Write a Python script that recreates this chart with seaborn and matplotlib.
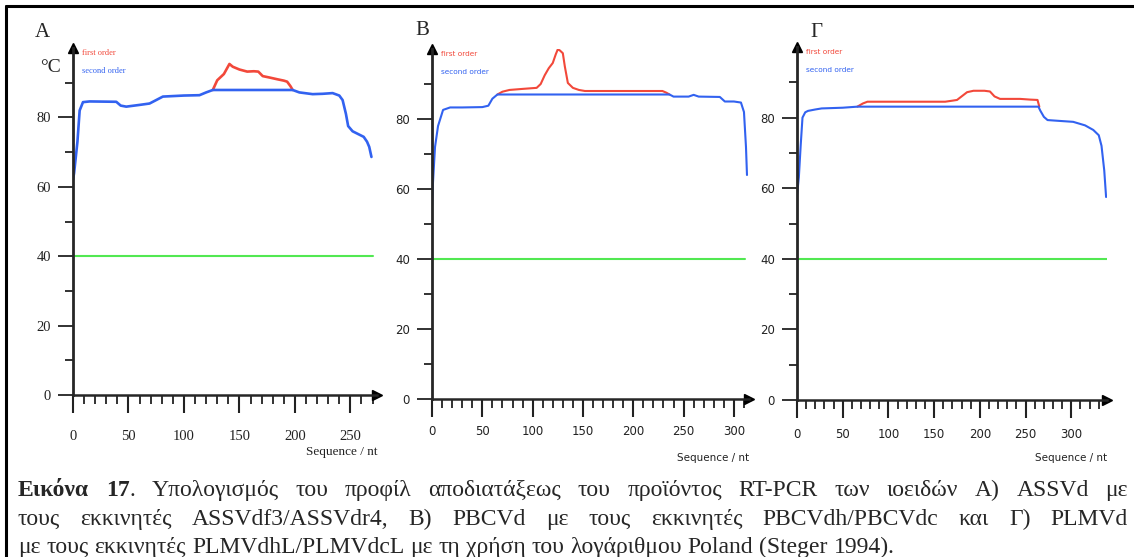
import matplotlib
matplotlib.use("Agg")
import matplotlib.pyplot as plt
import seaborn as sns
from matplotlib.lines import Line2D

# ---- data ----
blue_A_x = [0, 1, 4, 6, 9, 15, 39, 43, 48, 60, 69, 75, 81, 100, 114, 120, 126, 198, 204, 216, 225, 234, 240, 243, 246, 248, 252, 257, 262, 265, 267, 269]
blue_A_y = [62, 64, 73, 82, 84.4, 84.6, 84.5, 83.4, 83.1, 83.6, 84, 85, 86, 86.3, 86.4, 87.2, 87.9, 87.9, 87.2, 86.7, 86.8, 87, 86.3, 85, 81, 77.5, 76, 75.2, 74.4, 73, 71.5, 68.6]
red_A_x = [126, 130, 132, 136, 141, 144, 150, 157, 163, 167, 171, 177, 184, 190, 193, 196, 198]
red_A_y = [87.9, 90.7, 91.3, 92.5, 95.4, 94.6, 93.8, 93.2, 93.3, 93.2, 91.9, 91.5, 91.0, 90.6, 90.3, 89, 87.9]

blue_B_x = [0, 1, 3, 6, 11, 18, 30, 50, 56, 60, 65, 100, 150, 200, 236, 240, 255, 260, 265, 286, 291, 300, 307, 310, 312, 313]
blue_B_y = [55, 62, 72, 78, 82.6, 83.3, 83.3, 83.4, 83.8, 85.8, 87, 87, 87, 87, 87, 86.4, 86.4, 86.9, 86.4, 86.3, 85, 85, 84.7, 82, 72, 64]
red_B_x = [65, 70, 77, 90, 104, 108, 112, 116, 120, 123, 125, 127, 130, 132, 135, 140, 146, 152, 180, 229, 233, 236]
red_B_y = [87, 87.8, 88.3, 88.6, 88.9, 90, 92.5, 94.5, 96, 98.5, 99.9, 99.6, 98.8, 95, 90.3, 88.9, 88.3, 88, 88, 88, 87.5, 87]

blue_G_x = [0, 2, 4, 6, 9, 12, 20, 27, 50, 66, 150, 264, 266, 270, 274, 285, 302, 315, 324, 330, 333, 336, 338]
blue_G_y = [58, 63, 72, 80, 81.5, 81.9, 82.3, 82.6, 82.8, 83.1, 83.1, 83.1, 82, 80.2, 79.3, 79.1, 78.8, 77.8, 76.5, 75, 72, 65, 57.5]
red_G_x = [66, 72, 77, 120, 162, 170, 175, 180, 186, 193, 205, 211, 216, 222, 244, 255, 263, 265]
red_G_y = [83.1, 84, 84.5, 84.5, 84.5, 84.8, 85, 86, 87.2, 87.6, 87.6, 87.4, 86, 85.3, 85.3, 85.1, 85, 83.1]

green_y = 40
green_end = [270, 311, 339]

panel_letters = ["A", "B", "Γ"]
y_major = [0, 20, 40, 60, 80]
y_minor = [10, 30, 50, 70, 90]

caption = [
    "Εικόνα 17. Υπολογισμός του προφίλ αποδιατάξεως του προϊόντος RT-PCR των ιοειδών Α) ASSVd με",
    "τους εκκινητές ASSVdf3/ASSVdr4, Β) PBCVd με τους εκκινητές PBCVdh/PBCVdc και Γ) PLMVd",
    "με τους εκκινητές PLMVdhL/PLMVdcL με τη χρήση του λογάριθμου Poland (Steger 1994).",
]

RED = "#f2483a"
BLUE = "#3262f0"
GREEN = "#52e852"

sns.set_style("ticks")
plt.rcParams["font.family"] = ["DejaVu Sans"]

W, H = 1134, 557
fig = plt.figure(figsize=(W / 100, H / 100), dpi=100)


def fx(px):
    return px / W


def fy(py):
    return 1 - py / H


# outer frame (top + left)
fig.add_artist(Line2D([fx(5.5), 1.0], [fy(6), fy(6)], color="black", lw=2.2))
fig.add_artist(Line2D([fx(6), fx(6)], [fy(6), 0.0], color="black", lw=2.2))

# panel geometry in pixels: left, right(arrow tip), top(arrow tip), bottom(y=0)
panels = [
    dict(box=(73, 377, 48, 395), xmax=274, xmajor=250, xminor=270, serif=True,
         blue=(blue_A_x, blue_A_y), red=(red_A_x, red_A_y), xpad=12, lw=1.9),
    dict(box=(432, 749, 49, 399), xmax=315, xmajor=300, xminor=310, serif=False,
         blue=(blue_B_x, blue_B_y), red=(red_B_x, red_B_y), xpad=6, lw=1.5),
    dict(box=(797, 1107, 47, 400), xmax=339, xmajor=300, xminor=330, serif=False,
         blue=(blue_G_x, blue_G_y), red=(red_G_x, red_G_y), xpad=7, lw=1.5),
]

for i, p in enumerate(panels):
    l, r, t, b = p["box"]
    ax = fig.add_axes([fx(l), fy(b), (r - l) / W, (b - t) / H])
    ax.set_xlim(0, p["xmax"])
    ax.set_ylim(0, 100)
    fam = "Liberation Serif" if p["serif"] else "DejaVu Sans"
    lsize = 10.5 if p["serif"] else 8.5

    sns.lineplot(x=[0, green_end[i]], y=[green_y, green_y], ax=ax, color=GREEN, lw=1.5, estimator=None)
    sns.lineplot(x=p["red"][0], y=p["red"][1], ax=ax, color=RED, lw=p["lw"], estimator=None, sort=False)
    sns.lineplot(x=p["blue"][0], y=p["blue"][1], ax=ax, color=BLUE, lw=p["lw"], estimator=None, sort=False)

    for s in ["top", "right"]:
        ax.spines[s].set_visible(False)
    ax.spines["left"].set_linewidth(2)
    ax.spines["bottom"].set_linewidth(1.8)
    ax.plot(1, 0, ">k", ms=7, transform=ax.transAxes, clip_on=False)
    ax.plot(0, 1, "^k", ms=7, transform=ax.transAxes, clip_on=False)

    ax.set_yticks(y_major)
    ax.set_yticks(y_minor, minor=True)
    ax.set_xticks(list(range(0, p["xmajor"] + 1, 50)))
    ax.set_xticks(list(range(0, p["xminor"] + 1, 10)), minor=True)
    ax.tick_params(left=True, bottom=True, which="both", color="#222222")
    ax.tick_params(axis="y", which="major", direction="out", length=11, width=1.3,
                   pad=5, labelsize=lsize, labelcolor="#222222")
    ax.tick_params(axis="y", which="minor", direction="out", length=6, width=1.3)
    ax.tick_params(axis="x", which="major", direction="out", length=13, width=1.5,
                   pad=p["xpad"], labelsize=lsize, labelcolor="#222222")
    ax.tick_params(axis="x", which="minor", direction="out", length=6.5, width=1.3)
    for lab in ax.get_xticklabels() + ax.get_yticklabels():
        lab.set_family(fam)
    ax.set_xlabel("")
    ax.set_ylabel("")
    ax.set_facecolor("none")

    # small legend text at top of axis
    small = 6 if p["serif"] else 5.3
    fig.text(fx(l + 9), fy(t + 5), "first order", color=RED, fontsize=small,
             family=fam, va="center")
    fig.text(fx(l + 9), fy(t + 23), "second order", color=BLUE, fontsize=small,
             family=fam, va="center")
    fig.text(fx(r), fy(452 if p["serif"] else 458), "Sequence / nt", fontsize=9.5 if p["serif"] else 7.5,
             family=fam, ha="right", va="center", color="#222222")

fig.text(fx(35), fy(37), "A", fontsize=15, family="Liberation Serif", va="baseline")
fig.text(fx(415), fy(35), "B", fontsize=15, family="Liberation Serif", va="baseline")
fig.text(fx(810), fy(37), "Γ", fontsize=15, family="Liberation Serif", va="baseline")
fig.text(fx(40), fy(72), "°C", fontsize=14, family="Liberation Serif", va="baseline")

# caption, lines 1-2 justified
renderer = fig.canvas.get_renderer()
cap_size = 17
x_left, x_right = 18, 1128
baselines = [496, 525, 553]


def make_words(line, first):
    words = []
    for k, w in enumerate(line.split(" ")):
        if first and k == 0:
            words.append([(w, "bold")])
        elif first and k == 1:
            words.append([(w[:-1], "bold"), (w[-1], "normal")])
        else:
            words.append([(w, "normal")])
    return words


for li, line in enumerate(caption):
    words = make_words(line, li == 0)
    arts = []
    widths = []
    for wd in words:
        pieces = []
        wsum = 0
        for txt, weight in wd:
            t = fig.text(0, fy(baselines[li]), txt, fontsize=cap_size, family="Liberation Serif",
                         weight=weight, va="baseline", ha="left")
            pw = t.get_window_extent(renderer).width
            pieces.append((t, pw))
            wsum += pw
        arts.append(pieces)
        widths.append(wsum)
    sp = fig.text(0, 0, "a a", fontsize=cap_size, family="Liberation Serif").get_window_extent(renderer).width
    sp -= fig.text(0, 0, "aa", fontsize=cap_size, family="Liberation Serif").get_window_extent(renderer).width
    for t in fig.texts[-2:]:
        t.set_visible(False)
    if li < 2:
        gap = (x_right - x_left - sum(widths)) / (len(words) - 1)
    else:
        gap = sp
    x = x_left
    for pieces, wsum in zip(arts, widths):
        xx = x
        for t, pw in pieces:
            t.set_x(fx(xx))
            xx += pw
        x += wsum + gap

fig.savefig("out.png", dpi=100)
